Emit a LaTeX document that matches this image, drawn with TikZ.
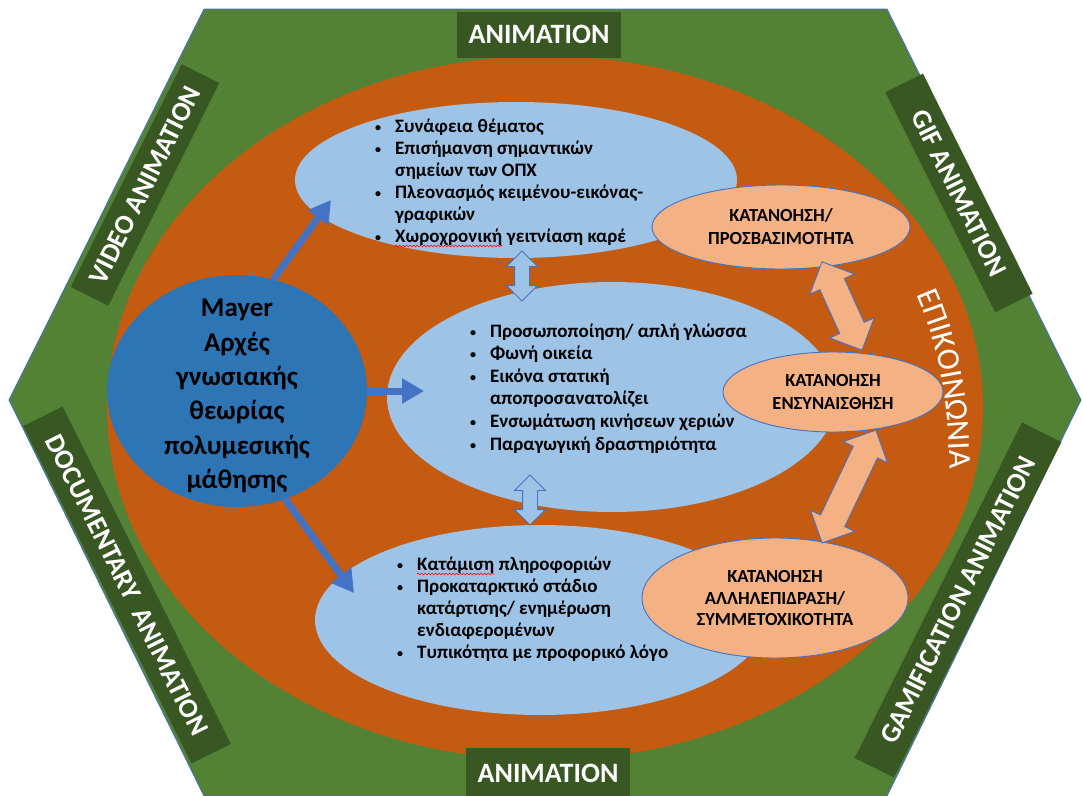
\documentclass[tikz,border=0pt]{standalone}
\usepackage{fontspec}
\setmainfont{Carlito}
\usetikzlibrary{shapes.geometric,shapes.arrows,arrows.meta,decorations.text,decorations.pathmorphing}
\definecolor{hexgreen}{HTML}{548235}
\definecolor{labgreen}{HTML}{385723}
\definecolor{orng}{HTML}{C55A11}
\definecolor{lblue}{HTML}{9DC3E6}
\definecolor{mblue}{HTML}{2E75B6}
\definecolor{peach}{HTML}{F4B183}
\definecolor{abl}{HTML}{4472C4}
\newcommand{\bul}{\makebox[22pt][l]{\hspace{2pt}\raisebox{1pt}{\fontsize{12}{12}\selectfont•}}}
\begin{document}
\begin{tikzpicture}[x=1pt,y=-1pt,
  lab/.style={fill=labgreen, text=white, font=\bfseries\fontsize{27.5}{27.5}\selectfont, inner sep=0},
  toplab/.style={lab, font=\bfseries\fontsize{28}{28}\selectfont},
  lbell/.style={ellipse, fill=lblue, inner sep=0},
  pell/.style={ellipse, fill=peach, draw=abl, line width=0.9, inner sep=0, align=center, font=\bfseries\fontsize{18.5}{23}\selectfont},
  bt/.style={anchor=base west, inner sep=0, font=\bfseries\fontsize{19}{20}\selectfont},
  lbarrow/.style={double arrow, fill=lblue, draw=abl, line width=0.9, inner xsep=0, inner ysep=7, double arrow head extend=8, minimum height=50},
  parrow/.style={double arrow, fill=peach, draw=abl, line width=0.9, inner xsep=0, inner ysep=13, double arrow head extend=11},
  barrow/.style={draw=abl, line width=7, -{Triangle[width=24pt,length=22pt]}},
  squig/.style={draw=red, line width=0.6, decorate, decoration={snake, amplitude=0.9pt, segment length=3.5pt}}
]
\useasboundingbox (0,0) rectangle (1083,795);
% hexagon
\draw[fill=hexgreen, draw=abl, line width=0.9] (204,9) -- (887,9) -- (1081,400) -- (887,796) -- (204,796) -- (9,400) -- cycle;
% orange ellipse
\node[ellipse, fill=orng, minimum width=876, minimum height=704, inner sep=0] (orange) at (545,408) {};
% labels
\node[toplab, minimum width=164, minimum height=46] (anitop) at (539,34.5) {ANIMATION};
\node[toplab, minimum width=164, minimum height=50] (anibot) at (548,773) {ANIMATION};
\node[lab, minimum width=249, minimum height=42, rotate=63.5] (video) at (145,185) {VIDEO ANIMATION};
\node[lab, minimum width=246, minimum height=42, rotate=-63.5] (gif) at (959,193) {GIF ANIMATION};
\node[lab, minimum width=377, minimum height=44, rotate=-63.5] (docu) at (127,585) {DOCUMENTARY\ \ ANIMATION};
\node[lab, minimum width=375, minimum height=44, rotate=63.5] (gami) at (958,600) {GAMIFICATION ANIMATION};
% light blue ellipses
\node[lbell, minimum width=442, minimum height=156] (top) at (516,180) {};
\node[lbell, minimum width=450, minimum height=230] (mid) at (612,397) {};
\node[lbell, minimum width=450, minimum height=190] (bot) at (540,620) {};
% peach ellipses
\node[pell, minimum width=258, minimum height=84] (ptop) at (781,227) {ΚΑΤΑΝΟΗΣΗ/\\ΠΡΟΣΒΑΣΙΜΟΤΗΤΑ};
\node[pell, minimum width=220, minimum height=80] (pmid) at (833,392) {ΚΑΤΑΝΟΗΣΗ\\ΕΝΣΥΝΑΙΣΘΗΣΗ};
\node[pell, minimum width=266, minimum height=120, font=\bfseries\fontsize{18.5}{21.5}\selectfont] (pbot) at (775,598) {ΚΑΤΑΝΟΗΣΗ\\ΑΛΛΗΛΕΠΙΔΡΑΣΗ/\\ΣΥΜΜΕΤΟΧΙΚΟΤΗΤΑ};
% double arrows
\node[lbarrow, rotate=90] (da1) at (522,276) {};
\node[lbarrow, rotate=90] (da2) at (530,500) {};
\node[parrow, minimum height=97, rotate=-65.6] (pa1) at (842,306) {};
\node[parrow, minimum height=125, rotate=64.5] (pa2) at (849,486.5) {};
% EPIKOINONIA
\path[decorate, decoration={text along path, text align=center,
  text={|\color{white}\fontsize{32}{32}\selectfont|ΕΠΙΚΟΙΝΩΝΙΑ}}]
  (910,280) .. controls (935,330) and (950,390) .. (950,485);
% top list
\node[bt] (t1) at (373,132) {\bul Συνάφεια θέματος};
\node[bt] (t2) at (373,154) {\bul Επισήμανση σημαντικών};
\node[bt] (t3) at (395,176) {σημείων των ΟΠΧ};
\node[bt] (t4) at (373,198) {\bul Πλεονασμός κειμένου-εικόνας-};
\node[bt] (t5) at (395,220) {γραφικών};
\node[bt] (t6) at (373,242) {\bul};
\node[bt] (t6w) at (395,242) {Χωροχρονική};
\node[bt, anchor=base west] (t6r) at (t6w.base east) {\ γειτνίαση καρέ};
\draw[squig] ([yshift=-4]t6w.base west) -- ([yshift=-4]t6w.base east);
% middle list
\node[bt] (m1) at (468,337) {\bul Προσωποποίηση/ απλή γλώσσα};
\node[bt] (m2) at (468,359.6) {\bul Φωνή οικεία};
\node[bt] (m3) at (468,382.2) {\bul Εικόνα στατική};
\node[bt] (m4) at (490,404.8) {αποπροσανατολίζει};
\node[bt] (m5) at (468,427.4) {\bul Ενσωμάτωση κινήσεων χεριών};
\node[bt] (m6) at (468,450) {\bul Παραγωγική δραστηριότητα};
% bottom list
\node[bt] (b1) at (395,570) {\bul};
\node[bt] (b1w) at (417,570) {Κατάμιση};
\node[bt, anchor=base west] (b1r) at (b1w.base east) {\ πληροφοριών};
\draw[squig] ([yshift=-4]b1w.base west) -- ([yshift=-4]b1w.base east);
\node[bt] (b2) at (395,592) {\bul Προκαταρκτικό στάδιο};
\node[bt] (b3) at (417,614) {κατάρτισης/ ενημέρωση};
\node[bt] (b4) at (417,636) {ενδιαφερομένων};
\node[bt] (b5) at (395,658) {\bul Τυπικότητα με προφορικό λόγο};
% Mayer circle
\node[ellipse, fill=mblue, minimum width=260, minimum height=232, inner sep=0] (mayer) at (237,391) {};
\node[align=center, inner sep=0, font=\bfseries\fontsize{27}{34.4}\selectfont] (mayertxt) at (237,396)
  {Mayer\\Αρχές\\γνωσιακής\\θεωρίας\\πολυμεσικής\\μάθησης};
% blue arrows
\coordinate (tipA) at (331,200);
\coordinate (tipB) at (424,391);
\coordinate (tipC) at (354,593);
\draw[barrow] (mayer.72) -- (tipA);
\draw[barrow] (mayer.east) -- (tipB);
\draw[barrow] (mayer.-66) -- (tipC);
\end{tikzpicture}
\end{document}
